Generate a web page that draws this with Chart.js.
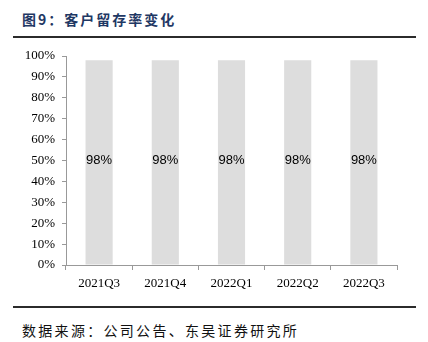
<!DOCTYPE html>
<html>
<head>
<meta charset="utf-8">
<script src="https://cdn.jsdelivr.net/npm/chart.js@4/dist/chart.umd.min.js"></script>
<style>
  body { margin: 0; background: #fff; }
  #wrap { position: relative; width: 428px; height: 342px; overflow: hidden; }
  #title {
    position: absolute; left: 22px; top: 9px;
    font-family: "Noto Sans CJK SC", sans-serif; font-weight: bold;
    font-size: 14px; color: #1f3864; letter-spacing: 2px;
  }
  .rule { position: absolute; left: 13px; width: 403px; background: #2b2b2b; }
  #source {
    position: absolute; left: 22px; top: 320px;
    font-family: "Noto Sans CJK SC", sans-serif; font-size: 14px; color: #111;
    letter-spacing: 2.3px;
  }
  #box { position: absolute; left: 0; top: 40px; width: 428px; height: 260px; }
</style>
</head>
<body>
<div id="wrap">
  <div id="title">图9：客户留存率变化</div>
  <div class="rule" style="top:36px;height:2px"></div>
  <div id="box"><canvas id="retentionChart"></canvas></div>
  <div class="rule" style="top:306px;height:1.5px"></div>
  <div id="source">数据来源：公司公告、东吴证券研究所</div>
</div>
<script>
const quarters = ['2021Q3', '2021Q4', '2022Q1', '2022Q2', '2022Q3'];
const retention = [98, 98, 98, 98, 98];
const yTicks = [0, 10, 20, 30, 40, 50, 60, 70, 80, 90, 100];

const serif = "'Times New Roman', 'Liberation Serif', serif";

// value labels sit in the middle of each bar
const midLabels = {
    id: 'midLabels',
    afterDatasetsDraw(chart) {
        const ctx = chart.ctx;
        const meta = chart.getDatasetMeta(0);
        ctx.save();
        ctx.font = "13px Arial, 'Liberation Sans', sans-serif";
        ctx.fillStyle = '#000';
        ctx.textAlign = 'center';
        ctx.textBaseline = 'middle';
        meta.data.forEach(function(bar, i) {
            const yMid = chart.scales.y.getPixelForValue(50);
            ctx.fillText(retention[i] + '%', bar.x, yMid);
        });
        ctx.restore();
    }
};

const retentionChart = new Chart(document.getElementById('retentionChart'), {
    type: 'bar',
    data: {
        labels: quarters,
        datasets: [{
            data: retention,
            backgroundColor: '#dddddd',
            categoryPercentage: 1,
            barPercentage: 0.41
        }]
    },
    options: {
        responsive: true,
        maintainAspectRatio: false,
        animation: false,
        layout: { padding: { left: 0, right: 31, top: 16, bottom: 0 } },
        plugins: { legend: { display: false }, tooltip: { enabled: false } },
        scales: {
            x: {
                grid: { drawOnChartArea: false, offset: true, tickLength: 5, color: '#999' },
                border: { color: '#999', width: 1 },
                ticks: { color: '#000', font: { family: serif, size: 13 }, padding: 6, maxRotation: 0 },
                afterFit(scale) { scale.height = 35; }
            },
            y: {
                min: 0,
                max: 100,
                afterBuildTicks(scale) { scale.ticks = yTicks.map(v => ({ value: v })); },
                grid: { drawOnChartArea: false, tickLength: 4, color: '#999' },
                border: { color: '#999', width: 1 },
                ticks: {
                    color: '#000', font: { family: serif, size: 13 }, padding: 7,
                    callback: v => v + '%'
                },
                afterFit(scale) { scale.width = 66; }
            }
        }
    },
    plugins: [midLabels]
});
</script>
</body>
</html>
